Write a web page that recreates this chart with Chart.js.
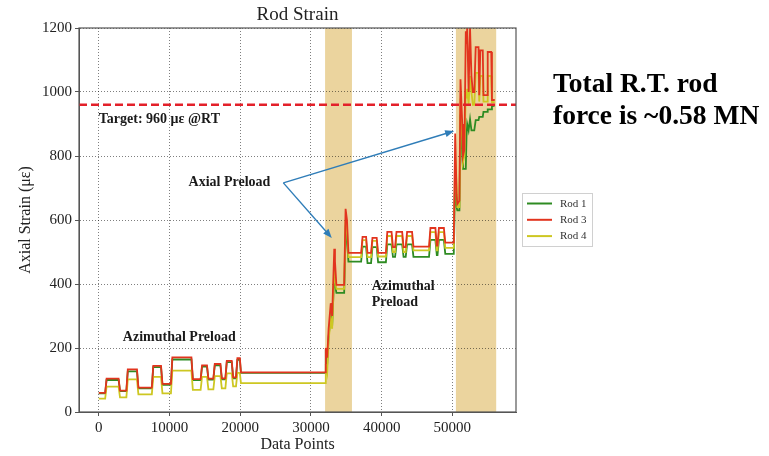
<!DOCTYPE html>
<html>
<head>
<meta charset="utf-8">
<script src="https://cdn.jsdelivr.net/npm/chart.js@4.4.1/dist/chart.umd.min.js"></script>
<style>
  html, body { margin: 0; padding: 0; background: #fff; }
</style>
</head>
<body>
<canvas id="chart" width="769" height="456"></canvas>
<script>
const chartTitle = 'Rod Strain';
const xTicks = [0, 10000, 20000, 30000, 40000, 50000];
const yTicks = [0, 200, 400, 600, 800, 1000, 1200];

// data point index shared by the three rods
const samples = [
  0, 900, 1100, 2800, 3000, 3900, 4100, 5400, 5600, 7500, 7700, 8800, 9000, 10200,
  10400, 13100, 13300, 14400, 14600, 15300, 15500, 16200, 16400, 17200, 17400, 17900,
  18100, 18800, 19000, 19400, 19600, 19950, 20100, 31900,
  32000, 32100, 32300, 32500, 32800, 33000, 33300, 33400, 33600, 34700, 34900, 35100, 35300,
  37100, 37300, 37800, 38000, 38500, 38700, 39300, 39500, 40600, 40800, 41400, 41600, 41900,
  42100, 42900, 43100, 43400, 43600, 44300, 44500, 46700, 46900, 47600, 47800, 47900,
  48100, 48800, 49000, 50200,
  50300, 50400, 50600, 50700, 51000, 51150, 51400, 51500, 51700, 51900, 52000, 52100,
  52300, 52500, 52700, 52900, 53100, 53300, 53700, 53800, 53950, 54300, 54400, 54900,
  55000, 55500, 55600, 56000,
];
const rod1 = [
  58, 58, 100, 100, 65, 65, 127, 127, 74, 74, 140, 140, 85, 85,
  164, 164, 100, 100, 142, 142, 101, 101, 146, 146, 102, 102,
  156, 156, 105, 105, 163, 163, 122, 122,
  122, 170, 150, 235, 300, 270, 430, 400, 372, 372, 560, 540, 470,
  470, 517, 517, 465, 465, 515, 515, 468, 468, 524, 524, 485, 485,
  524, 524, 485, 485, 524, 524, 485, 485, 538, 538, 490, 490,
  538, 538, 494, 494,
  600, 760, 640, 630, 630, 930, 800, 760, 760, 760, 860, 900,
  880, 915, 880, 880, 880, 912, 912, 922, 922, 922, 938, 938,
  946, 946, 955, 958,
];
const rod3 = [
  60, 60, 104, 104, 67, 67, 133, 133, 76, 76, 144, 144, 88, 88,
  171, 171, 103, 103, 146, 146, 104, 104, 150, 150, 105, 105,
  160, 160, 108, 108, 168, 168, 124, 124,
  124, 200, 170, 260, 340, 300, 510, 470, 397, 397, 635, 600, 497,
  497, 547, 547, 497, 497, 544, 544, 497, 497, 563, 563, 515, 515,
  563, 563, 515, 515, 563, 563, 517, 517, 575, 575, 520, 520,
  575, 575, 529, 529,
  700, 870, 680, 650, 660, 1040, 900, 800, 820, 1190, 1150, 1200,
  1000, 1200, 1050, 1000, 1000, 1140, 1140, 990, 1130, 1130, 990, 990,
  1125, 1125, 975, 975,
];
const rod4 = [
  42, 42, 79, 79, 46, 46, 102, 102, 55, 55, 110, 110, 58, 58,
  129, 129, 69, 69, 110, 110, 71, 71, 112, 112, 74, 74,
  121, 121, 80, 80, 122, 122, 90, 90,
  90, 150, 125, 225, 290, 260, 450, 420, 385, 385, 600, 570, 484,
  484, 537, 537, 484, 484, 535, 535, 486, 486, 550, 550, 500, 500,
  550, 550, 500, 500, 550, 550, 505, 505, 562, 562, 505, 505,
  562, 562, 513, 513,
  650, 800, 700, 640, 640, 980, 850, 780, 800, 1000, 980, 1010,
  960, 1050, 1000, 960, 960, 1060, 1060, 970, 1050, 1050, 970, 970,
  1050, 1050, 968, 968,
];

const target = 960;
const xRange = [-2800, 59000];
const bands = [[32000, 35800], [50500, 56200]];
const notes = [
  { text: 'Target: 960 με @RT', x: 0, y: 915 },
  { text: 'Axial Preload', x: 12700, y: 716 },
  { text: 'Azimuthal', x: 38600, y: 391 },
  { text: 'Preload', x: 38600, y: 341 },
  { text: 'Azimuthal Preload', x: 3400, y: 234 },
];
const arrows = [
  [26100, 716, 32950, 544],
  [26100, 716, 50250, 878],
];
const sideNote = ['Total R.T. rod', 'force is ~0.58 MN'];

const serif = "'Liberation Serif', 'Times New Roman', serif";
const toPoints = (values) => samples.map((x, i) => ({ x, y: values[i] }));

const decor = {
  id: 'decor',
  beforeDraw(chart) {
    const { ctx, chartArea: a, scales: { x } } = chart;
    ctx.save();
    ctx.fillStyle = '#ebd49e';
    bands.forEach(([from, to]) => {
      const l = x.getPixelForValue(from);
      const r = x.getPixelForValue(to);
      ctx.fillRect(l, a.top, r - l, a.bottom - a.top);
    });
    ctx.restore();
  },
  afterDraw(chart) {
    const { ctx, chartArea: a, scales: { x, y } } = chart;
    ctx.save();

    // axes frame
    ctx.strokeStyle = '#555';
    ctx.lineWidth = 1.2;
    ctx.strokeRect(a.left, a.top, a.right - a.left, a.bottom - a.top);

    // title
    ctx.fillStyle = '#222';
    ctx.font = `19px ${serif}`;
    ctx.textAlign = 'center';
    ctx.textBaseline = 'middle';
    ctx.fillText(chartTitle, (a.left + a.right) / 2, 15);

    // annotations
    ctx.font = `bold 14px ${serif}`;
    ctx.textAlign = 'left';
    ctx.fillStyle = '#1a1a1a';
    notes.forEach((n) => {
      ctx.fillText(n.text, x.getPixelForValue(n.x), y.getPixelForValue(n.y));
    });

    // arrows
    ctx.strokeStyle = '#2f7db8';
    ctx.fillStyle = '#2f7db8';
    ctx.lineWidth = 1.4;
    arrows.forEach(([x0, y0, x1, y1]) => {
      const sx = x.getPixelForValue(x0), sy = y.getPixelForValue(y0);
      const ex = x.getPixelForValue(x1), ey = y.getPixelForValue(y1);
      const ang = Math.atan2(ey - sy, ex - sx);
      ctx.beginPath();
      ctx.moveTo(sx, sy);
      ctx.lineTo(ex - 6 * Math.cos(ang), ey - 6 * Math.sin(ang));
      ctx.stroke();
      ctx.beginPath();
      ctx.moveTo(ex, ey);
      ctx.lineTo(ex - 9 * Math.cos(ang) + 3.5 * Math.sin(ang), ey - 9 * Math.sin(ang) - 3.5 * Math.cos(ang));
      ctx.lineTo(ex - 9 * Math.cos(ang) - 3.5 * Math.sin(ang), ey - 9 * Math.sin(ang) + 3.5 * Math.cos(ang));
      ctx.closePath();
      ctx.fill();
    });

    // legend
    const rods = chart.data.datasets.filter((d) => d.label.startsWith('Rod'));
    ctx.fillStyle = '#fff';
    ctx.strokeStyle = '#d0d0d0';
    ctx.lineWidth = 1;
    ctx.fillRect(522.5, 193.5, 70, 53);
    ctx.strokeRect(522.5, 193.5, 70, 53);
    ctx.font = `11px ${serif}`;
    rods.forEach((d, i) => {
      const ly = 203.5 + i * 16.3;
      ctx.strokeStyle = d.borderColor;
      ctx.lineWidth = 2;
      ctx.beginPath();
      ctx.moveTo(527, ly);
      ctx.lineTo(552, ly);
      ctx.stroke();
      ctx.fillStyle = '#333';
      ctx.fillText(d.label, 560, ly + 0.5);
    });

    // side note
    ctx.fillStyle = '#000';
    ctx.font = `bold 27.5px ${serif}`;
    sideNote.forEach((line, i) => ctx.fillText(line, 553, 85 + i * 32));

    ctx.restore();
  },
};

new Chart(document.getElementById('chart'), {
  type: 'line',
  data: {
    datasets: [{
      label: 'Target',
      data: [{ x: xRange[0], y: target }, { x: xRange[1], y: target }],
      borderColor: '#e3202a',
      borderWidth: 2.6,
      borderDash: [8, 4],
      order: 0,
    }, {
      label: 'Rod 1',
      data: toPoints(rod1),
      borderColor: '#2e8b22',
      borderWidth: 1.8,
      order: 3,
    }, {
      label: 'Rod 3',
      data: toPoints(rod3),
      borderColor: '#e2341e',
      borderWidth: 1.8,
      order: 1,
    }, {
      label: 'Rod 4',
      data: toPoints(rod4),
      borderColor: '#cdc722',
      borderWidth: 1.8,
      order: 2,
    }],
  },
  options: {
    responsive: false,
    devicePixelRatio: 1,
    animation: false,
    layout: { padding: { top: 28, right: 253, left: 0, bottom: 0 } },
    elements: { point: { radius: 0 }, line: { tension: 0 } },
    plugins: {
      legend: { display: false },
      tooltip: { enabled: false },
    },
    scales: {
      x: {
        type: 'linear',
        min: xRange[0],
        max: xRange[1],
        afterBuildTicks: (s) => { s.ticks = xTicks.map((v) => ({ value: v })); },
        afterFit: (s) => { s.height = 44; },
        ticks: {
          font: { family: serif, size: 15 },
          color: '#222',
          padding: 3,
          maxRotation: 0,
          callback: (v) => String(v),
        },
        grid: { color: 'rgba(0,0,0,0.5)', tickLength: 4, tickBorderDash: [], tickColor: '#555' },
        border: { display: true, color: '#555', dash: [1, 2] },
        title: {
          display: true,
          text: 'Data Points',
          font: { family: serif, size: 16 },
          color: '#222',
          padding: { top: 2, bottom: 2 },
        },
      },
      y: {
        min: 0,
        max: 1200,
        afterBuildTicks: (s) => { s.ticks = yTicks.map((v) => ({ value: v })); },
        afterFit: (s) => { s.width = 79; },
        ticks: {
          font: { family: serif, size: 15 },
          color: '#222',
          padding: 3,
          callback: (v) => String(v),
        },
        grid: { color: 'rgba(0,0,0,0.5)', tickLength: 4, tickBorderDash: [], tickColor: '#555' },
        border: { display: true, color: '#555', dash: [1, 2] },
        title: {
          display: true,
          text: 'Axial Strain (με)',
          font: { family: serif, size: 16 },
          color: '#222',
          padding: { top: 16, bottom: 0 },
        },
      },
    },
  },
  plugins: [decor],
});
</script>
</body>
</html>
